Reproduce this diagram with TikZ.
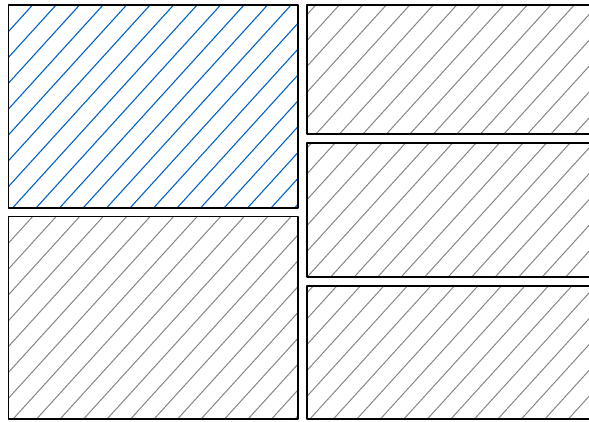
\documentclass[tikz,border=0pt]{standalone}
\usepackage{tikz}
\definecolor{hatchblue}{RGB}{0,100,200}
\definecolor{hatchgray}{RGB}{135,135,135}
\tikzset{
  boxborder/.style={draw=black, line width=1.7pt, line join=round},
  bluehatch/.style={draw=hatchblue, line width=1.1pt},
  grayhatch/.style={draw=hatchgray, line width=1pt},
}
% #1 x1, #2 y1, #3 x2, #4 y2, #5 invariant, #6 style
\newcommand{\hatchbox}[6]{%
  \begin{scope}
    \clip (#1,#2) rectangle (#3,#4);
    \foreach \k in {-30,...,40} {
      \draw[#6] ({#5+\k*23.5-(#4)/1.1},#4) -- ({#5+\k*23.5-(#2)/1.1},#2);
    }
  \end{scope}
  \draw[boxborder] (#1,#2) rectangle (#3,#4);
}
\begin{document}
\begin{tikzpicture}[x=1pt,y=-1pt]
  \clip (0,0) rectangle (589,421);
  \useasboundingbox (0,0) rectangle (589,421);
  \fill[white] (0,0) rectangle (589,421);
  % left column
  \hatchbox{8.5}{5}{298.3}{207.8}{37.1}{bluehatch}
  \hatchbox{8.5}{216.5}{298.3}{419.3}{229.5}{grayhatch}
  % right column
  \hatchbox{307.2}{4.8}{600}{134}{320.3}{grayhatch}
  \hatchbox{307.2}{142.8}{600}{277.3}{441.5}{grayhatch}
  \hatchbox{307.2}{285.8}{600}{419.3}{573.3}{grayhatch}
\end{tikzpicture}
\end{document}
